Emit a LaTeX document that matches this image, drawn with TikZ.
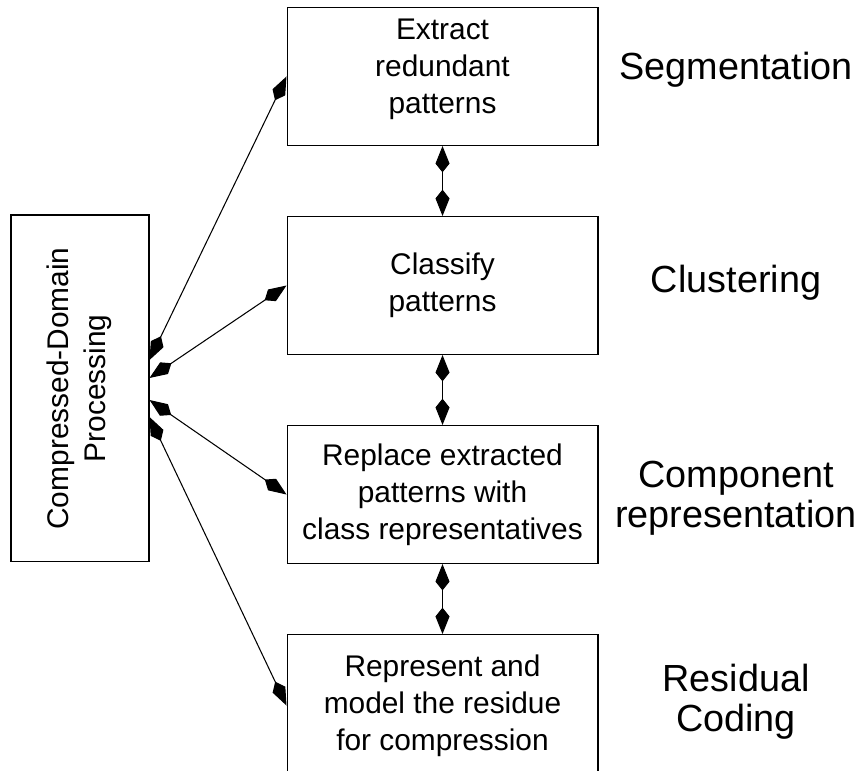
\documentclass[tikz,border=0pt]{standalone}
\usepackage{fontspec}
\setmainfont{Liberation Sans}
\usetikzlibrary{arrows.meta, positioning}

\begin{document}
\begin{tikzpicture}[x=0.02cm,y=0.02cm,line width=0.6pt,
                >={Kite[length=15pt,width=8pt,inset=5pt]},
                box node/.style={draw,minimum width=6.22cm,minimum height=2.76cm,
                  align=center,font=\fontsize{17}{21}\selectfont},
                side label/.style={align=center,font=\fontsize{21.5}{23}\selectfont}]

        \useasboundingbox (0,0) rectangle (864,770);

        % processing steps, top to bottom
        \node[box node] (extract) at (442.5,693.5) {Extract\\redundant\\patterns\\[-9pt]};
        \node[box node] (classify) [below=1.4cm of extract] {Classify\\patterns};
        \node[box node] (replace) [below=1.4cm of classify] {Replace extracted\\patterns with\\class representatives};
        \node[box node] (residue) [below=1.4cm of replace, minimum height=2.84cm]
              {Represent and\\model the residue\\for compression};

        % compressed-domain block on the left
        \node[draw,minimum width=2.76cm,minimum height=6.94cm] (cdp) at (80,381.5)
              {\rotatebox{90}{\fontsize{17}{21}\selectfont
               \begin{tabular}{@{}c@{}}Compressed-Domain\\Processing\end{tabular}}};

        % stage names
        \node[side label] (seg) at (736,700) {Segmentation};
        \node[side label] (clu) at (736,487) {Clustering};
        \node[side label] (com) at (736,272) {Component\\representation};
        \node[side label] (res) at (736,68) {Residual\\Coding};

        \coordinate (c1) at ([yshift=0.57cm]cdp.east);
        \coordinate (c2) at ([yshift=0.21cm]cdp.east);
        \coordinate (c3) at ([yshift=-0.23cm]cdp.east);
        \coordinate (c4) at ([yshift=-0.57cm]cdp.east);

          \path[<->]
            (extract)  edge (classify)
            (classify) edge (replace)
            (replace)  edge (residue)
            (c1) edge (extract.west)
            (c2) edge (classify.west)
            (c3) edge (replace.west)
            (c4) edge (residue.west);
\end{tikzpicture}
\end{document}
